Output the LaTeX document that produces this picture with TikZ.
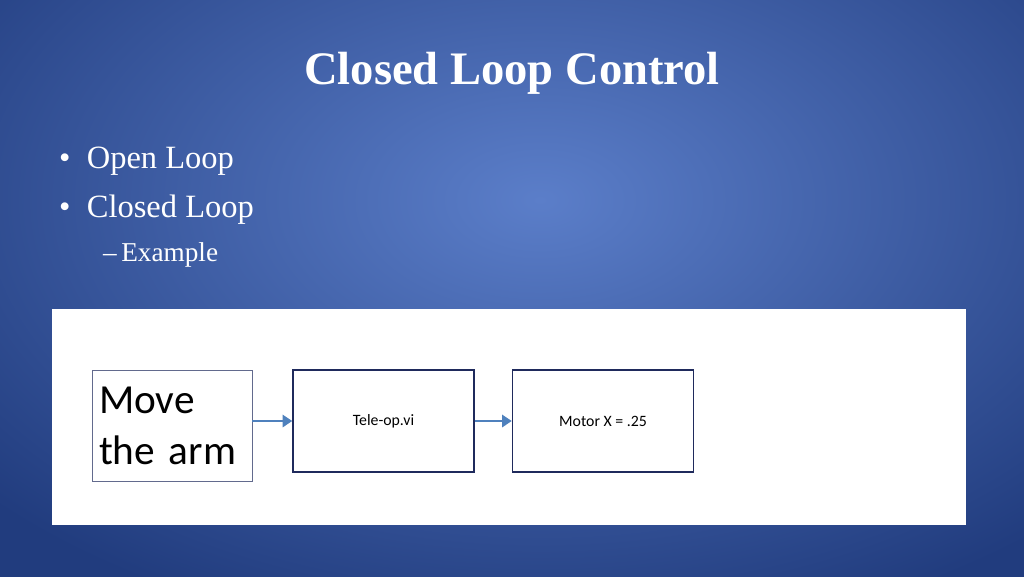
\documentclass[tikz,border=0pt]{standalone}
\usepackage{fontspec}
\setmainfont{Liberation Serif}
\newfontfamily\boxfont{Carlito}
\usetikzlibrary{arrows.meta, positioning}
\definecolor{bgin}{HTML}{5B7EC9}
\definecolor{bgout}{HTML}{213C7E}
\definecolor{navy}{HTML}{1F2A5C}
\definecolor{arrowblue}{HTML}{4F81BD}
\tikzset{
  stage/.style={draw=navy, line width=0.9pt, minimum width=3.62cm, minimum height=2.04cm, font=\boxfont\fontsize{9}{11}\selectfont, inner sep=0pt},
  flow/.style={draw=arrowblue, line width=1.3pt, -{Triangle[length=5.5pt,width=7pt]}},
  bullet/.style={anchor=west, text=white, font=\fontsize{18.5}{22}\selectfont},
}
\begin{document}
\begin{tikzpicture}[x=0.02cm,y=-0.02cm]
\useasboundingbox (0,0) rectangle (1024,576);
\shade[inner color=bgin, outer color=bgout] (-200,-250) rectangle (1280,650);
\node[text=white, font=\bfseries\fontsize{26.5}{30}\selectfont] (title) at (512,73) {Closed Loop Control};
\node[bullet] (open) at (53,161) {\textbullet\ \ Open Loop};
\node[bullet] (closed) at (53,210) {\textbullet\ \ Closed Loop};
\node[bullet, font=\fontsize{15.5}{18}\selectfont] (ex) at (97,255) {--\,Example};
\fill[white] (52,309) rectangle (966,525);
\node[draw=navy!70, line width=0.5pt, minimum width=3.2cm, minimum height=2.22cm, inner sep=0pt,
  text width=2.92cm, font=\boxfont\fontsize{23.5}{29}\selectfont, align=left] (move) at (172,425.5) {Move\\the arm};
\node[stage] (tele) at (383.5,421) {Tele-op.vi};
\node[stage] (motor) at (603,421) {Motor X = .25};
\draw[flow] (move.east |- tele) -- (tele.west);
\draw[flow] (tele) -- (motor);
\end{tikzpicture}
\end{document}
